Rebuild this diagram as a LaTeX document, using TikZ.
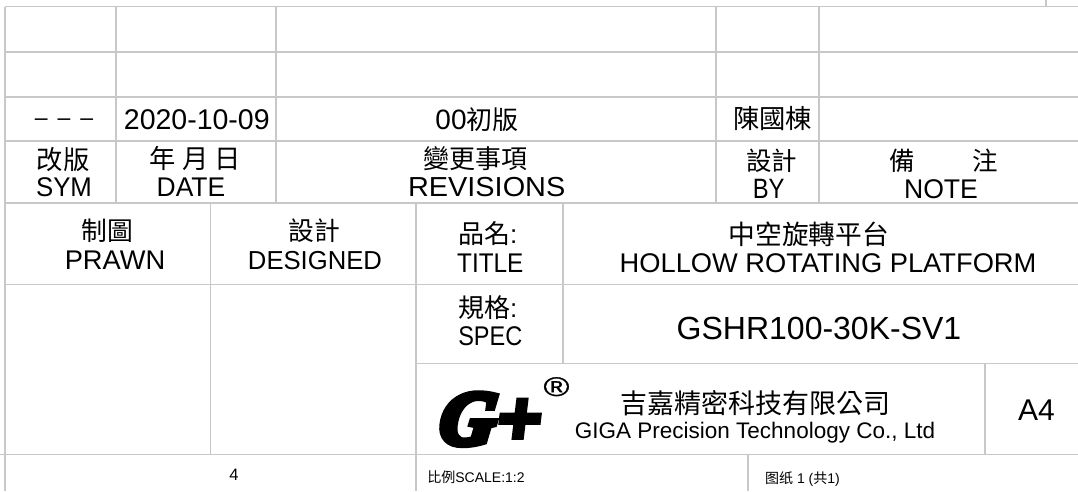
\documentclass[tikz,border=0pt]{standalone}
\usepackage{graphicx}
\usepackage{fontspec}
\setmainfont{Liberation Sans}
\newfontfamily\cjk{Noto Sans CJK TC}
\newfontfamily\logofont[FakeBold=9,FakeSlant=0.12]{Liberation Serif Bold Italic}
\newfontfamily\regfont[FakeBold=0.8]{Liberation Sans}
\definecolor{gridc}{HTML}{C8C8C8}
\tikzset{
  gridline/.style={draw=gridc,line width=1.2pt},
  lbl/.style={anchor=base,inner sep=0pt,outer sep=0pt,text=black}
}
\newcommand{\tx}[6]{\node[lbl,font=\fontsize{#4}{#4}\selectfont] (#1) at (#2pt,-#3pt) {\scalebox{#5}[1]{#6}};}
\begin{document}
\begin{tikzpicture}[x=1pt,y=1pt]
\useasboundingbox (0,0) rectangle (1078,-491);
\fill[white] (0,0) rectangle (1078,-491);
\begin{scope}
\clip (0,0) rectangle (1078,-491);
% horizontal rules
\draw[gridline] (5,-6.5) -- (1078,-6.5);
\draw[gridline] (5,-52) -- (1078,-52);
\draw[gridline] (5,-97) -- (1078,-97);
\draw[gridline] (5,-141) -- (1078,-141);
\draw[gridline] (5,-203) -- (1078,-203);
\draw[gridline] (5,-284.5) -- (1078,-284.5);
\draw[gridline] (416,-363.5) -- (1078,-363.5);
\draw[gridline] (0,-454.5) -- (1078,-454.5);
% vertical rules
\draw[gridline] (5,-6.5) -- (5,-491);
\draw[gridline] (116,-6.5) -- (116,-203);
\draw[gridline] (276,-6.5) -- (276,-203);
\draw[gridline] (716,-6.5) -- (716,-203);
\draw[gridline] (819,-6.5) -- (819,-203);
\draw[gridline] (1046,0) -- (1046,-6.5);
\draw[gridline] (210.5,-203) -- (210.5,-454.5);
\draw[gridline] (416,-203) -- (416,-491);
\draw[gridline] (563,-203) -- (563,-363.5);
\draw[gridline] (985,-363.5) -- (985,-454.5);
\draw[gridline] (748,-454.5) -- (748,-491);
\end{scope}
% revision row
\tx{dash}{64}{125}{23}{1}{–\hspace{10pt}–\hspace{10pt}–}
\tx{date}{196.8}{129}{28.5}{1}{2020-10-09}
\tx{rev}{477}{129}{28}{1}{00{\cjk\fontsize{26}{26}\selectfont 初版}}
\tx{who}{772.5}{128}{26.3}{1}{{\cjk 陳國棟}}
% header row
\tx{symc}{63}{169}{26.3}{1}{{\cjk 改版}}
\tx{syme}{64}{196}{27}{.955}{SYM}
\tx{datec}{195.3}{168}{26.3}{1}{{\cjk 年 月 日}}
\tx{datee}{191}{196}{27}{.98}{DATE}
\tx{revc}{475.3}{168}{26}{1}{{\cjk 變更事項}}
\tx{reve}{486.7}{196}{27.5}{1.05}{REVISIONS}
\tx{byc}{771.5}{170}{25.5}{1}{{\cjk 設計}}
\tx{bye}{768.7}{198}{28}{.85}{BY}
\tx{notec}{943.5}{170}{25.5}{1}{{\cjk 備\hspace{57pt}注}}
\tx{notee}{941}{198}{27}{.985}{NOTE}
% title block
\tx{drawnc}{107.5}{240}{25.8}{1}{{\cjk 制圖}}
\tx{drawne}{115}{269}{27}{1.01}{PRAWN}
\tx{desc}{314}{240}{25.8}{1}{{\cjk 設計}}
\tx{dese}{315}{269}{26}{.987}{DESIGNED}
\tx{titlec}{487.7}{243}{26}{1}{{\cjk 品名}:}
\tx{titlee}{490.3}{272}{27}{.9}{TITLE}
\tx{namec}{808.7}{244}{26.7}{1}{{\cjk 中空旋轉平台}}
\tx{namee}{828}{272}{27}{1.01}{HOLLOW ROTATING PLATFORM}
\tx{specc}{487.7}{317}{26}{1}{{\cjk 規格}:}
\tx{spece}{490.3}{345}{27}{.87}{SPEC}
\tx{model}{819}{339}{32}{1}{GSHR100-30K-SV1}
\tx{logo}{488}{444}{76}{1}{{\logofont G\kern2pt+}}
\tx{reg}{556.5}{396}{27}{1.3}{{\regfont ®}}
\tx{compc}{755}{413}{27}{1}{{\cjk 吉嘉精密科技有限公司}}
\tx{compe}{755}{438}{22.5}{1}{GIGA Precision Technology Co., Ltd}
\tx{size}{1036.5}{420}{30}{1}{A4}
% bottom strip
\tx{four}{234}{480}{16.5}{1}{4}
\tx{scale}{476}{482}{14}{1}{{\cjk 比例}SCALE:1:2}
\tx{sheet}{802.5}{483}{14}{1}{{\cjk 图纸} 1 ({\cjk 共}1)}
\end{tikzpicture}
\end{document}
